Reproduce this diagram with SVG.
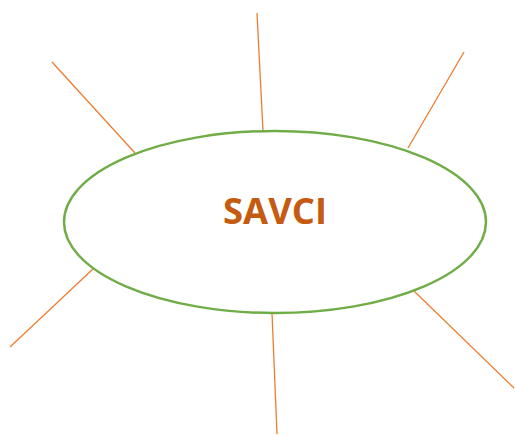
<svg xmlns="http://www.w3.org/2000/svg" width="515" height="435" viewBox="0 0 515 435">
<style>
.c{stroke:#ed7d31;stroke-width:1.3;fill:none}
.e{fill:#fff;stroke:#70ad47;stroke-width:2.5}
.t{font-family:"Open Sans","Liberation Sans",sans-serif;font-weight:bold;font-size:35px;fill:#c55a11}
</style>
<rect width="515" height="435" fill="#fff"/>
<g id="connectors">
<line class="c" x1="52" y1="62" x2="135" y2="153"/>
<line class="c" x1="257" y1="13" x2="263" y2="131"/>
<line class="c" x1="464" y1="52" x2="408" y2="148"/>
<line class="c" x1="10" y1="347" x2="94" y2="268"/>
<line class="c" x1="272" y1="313" x2="277" y2="434"/>
<line class="c" x1="414" y1="291" x2="514" y2="388"/>
</g>
<g id="savci">
<ellipse class="e" cx="275" cy="222" rx="211" ry="91"/>
<text class="t" x="275" y="224" text-anchor="middle" textLength="104" lengthAdjust="spacingAndGlyphs">SAVCI</text>
</g>
</svg>
